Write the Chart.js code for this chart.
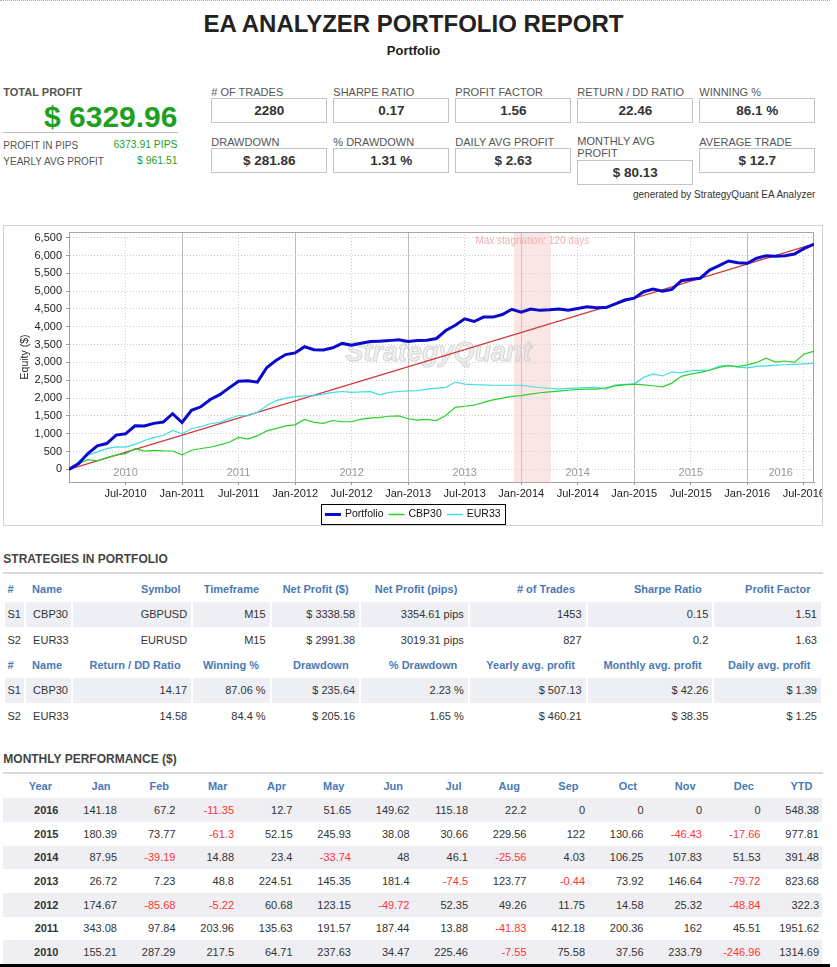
<!DOCTYPE html>
<html>
<head>
<meta charset="utf-8">
<title>EA Analyzer Portfolio Report</title>
<script src="https://cdn.jsdelivr.net/npm/chart.js@4.4.0/dist/chart.umd.min.js"></script>
<style>
body{margin:0;background:#fff;font-family:Arial,"Liberation Sans",sans-serif;color:#333;width:837px;height:967px;position:relative;overflow:hidden}
.a{position:absolute;white-space:nowrap}
.topline{position:absolute;left:0;top:0;width:830px;border-top:1px dotted #aaa}
.title{left:0;width:827px;text-align:center;font-weight:bold;color:#222}
.lbl{font-size:11px;line-height:11px;color:#555}
.box{position:absolute;width:116px;height:25px;box-sizing:border-box;border:1px solid #c4c4c4;text-align:center;font-weight:bold;font-size:13.5px;line-height:23px;color:#333}
.green{color:#1f9f1f}
.sect{font-size:12px;line-height:12px;font-weight:bold;color:#444}
.rule{position:absolute;left:3px;width:820px;height:2px;background:#d6dbd6}
#chartBox{position:absolute;left:3px;top:225px;width:818px;height:299px;border:1px solid #d6ced6}
#chartBox canvas{display:block}
table{position:absolute;table-layout:fixed;font-size:11px;color:#333}
td{padding:0;white-space:nowrap;overflow:hidden}
#strat{left:3px;top:576.4px;width:820px;border-collapse:separate;border-spacing:2.5px 0}
#strat tr{height:25.33px}
#strat td{text-align:right;padding-right:4px}
#strat td.c0{text-align:left;padding-left:2.5px;padding-right:0}
#strat td.c1{text-align:left;padding-left:7px;padding-right:0}
#strat tr.h td{font-weight:bold;color:#4a79b5;padding-right:10.5px}
#strat tr.h td.c0,#strat tr.h td.c1{padding-right:0}
#strat tr.h td.c1{padding-left:6px}
#strat tr.s td{background:#eeeff4}
#month{left:3px;top:774.4px;width:819px;border-collapse:collapse}
#month tr{height:23.65px}
#month tr.h{height:24px}
#month td{text-align:right;padding-right:3px}
#month tr.h td{font-weight:bold;color:#4a79b5;padding-right:9.5px}
#month tr.s td{background:#efeff3}
#month td.yr{font-weight:bold}
.neg{color:#ff3333}
.bottombar{position:absolute;left:0;top:964px;width:830px;height:3px;background:#000}
</style>
</head>
<body>
<div class="topline"></div>
<div class="a title" style="top:12px;font-size:24px;line-height:24px">EA ANALYZER PORTFOLIO REPORT</div>
<div class="a title" style="top:44.3px;font-size:13px;line-height:13px">Portfolio</div>

<div class="a lbl" style="left:3.3px;top:87.4px;font-weight:bold">TOTAL PROFIT</div>
<div class="a green" style="left:0;width:177.5px;text-align:right;top:102.3px;font-size:30px;line-height:30px;font-weight:bold">$ 6329.96</div>
<div class="a" style="left:3px;top:132px;width:175px;height:1px;background:#bbb"></div>
<div class="a" style="left:3.3px;top:140.5px;font-size:10px;line-height:10px;color:#555">PROFIT IN PIPS</div>
<div class="a green" style="left:0;width:177.5px;text-align:right;top:140.2px;font-size:10.4px;line-height:10.4px">6373.91 PIPS</div>
<div class="a" style="left:3.3px;top:156.5px;font-size:10px;line-height:10px;color:#555">YEARLY AVG PROFIT</div>
<div class="a green" style="left:0;width:177.5px;text-align:right;top:156.2px;font-size:10.4px;line-height:10.4px">$ 961.51</div>

<div id="stats"></div>

<div class="a" style="left:0;width:815.3px;text-align:right;top:189.5px;font-size:10px;line-height:10px;color:#333">generated by StrategyQuant EA Analyzer</div>

<div id="chartBox"><canvas id="equityCanvas" width="818" height="299"></canvas></div>

<div class="a sect" style="left:3.3px;top:553.1px">STRATEGIES IN PORTFOLIO</div>
<div class="rule" style="top:571.5px"></div>
<table id="strat">
<colgroup><col style="width:19px"><col style="width:45px"><col style="width:117px"><col style="width:76px"><col style="width:87px"><col style="width:106px"><col style="width:115px"><col style="width:124px"><col style="width:106px"></colgroup>
<tbody></tbody>
</table>

<div class="a sect" style="left:3.3px;top:753.1px">MONTHLY PERFORMANCE ($)</div>
<div class="rule" style="top:771.5px"></div>
<table id="month">
<colgroup><col style="width:58.5px"><col style="width:58.5px"><col style="width:58.5px"><col style="width:58.5px"><col style="width:58.5px"><col style="width:58.5px"><col style="width:58.5px"><col style="width:58.5px"><col style="width:58.5px"><col style="width:58.5px"><col style="width:58.5px"><col style="width:58.5px"><col style="width:58.5px"><col style="width:58.5px"></colgroup>
<tbody></tbody>
</table>
<div class="bottombar"></div>

<script>
// ---- summary boxes ----
const statLabels1 = ["# OF TRADES", "SHARPE RATIO", "PROFIT FACTOR", "RETURN / DD RATIO", "WINNING %"];
const statValues1 = ["2280", "0.17", "1.56", "22.46", "86.1 %"];
const statLabels2 = ["DRAWDOWN", "% DRAWDOWN", "DAILY AVG PROFIT", "MONTHLY AVG<br>PROFIT", "AVERAGE TRADE"];
const statValues2 = ["$ 281.86", "1.31 %", "$ 2.63", "$ 80.13", "$ 12.7"];

// ---- monthly performance (table + portfolio equity) ----
const years = [2016, 2015, 2014, 2013, 2012, 2011, 2010];
const monthNames = ["Jan", "Feb", "Mar", "Apr", "May", "Jun", "Jul", "Aug", "Sep", "Oct", "Nov", "Dec"];
const m2016 = [141.18, 67.2, -11.35, 12.7, 51.65, 149.62, 115.18, 22.2, 0, 0, 0, 0];
const m2015 = [180.39, 73.77, -61.3, 52.15, 245.93, 38.08, 30.66, 229.56, 122, 130.66, -46.43, -17.66];
const m2014 = [87.95, -39.19, 14.88, 23.4, -33.74, 48, 46.1, -25.56, 4.03, 106.25, 107.83, 51.53];
const m2013 = [26.72, 7.23, 48.8, 224.51, 145.35, 181.4, -74.5, 123.77, -0.44, 73.92, 146.64, -79.72];
const m2012 = [174.67, -85.68, -5.22, 60.68, 123.15, -49.72, 52.35, 49.26, 11.75, 14.58, 25.32, -48.84];
const m2011 = [343.08, 97.84, 203.96, 135.63, 191.57, 187.44, 13.88, -41.83, 412.18, 200.36, 162, 45.51];
const m2010 = [155.21, 287.29, 217.5, 64.71, 237.63, 34.47, 225.46, -7.55, 75.58, 37.56, 233.79, -246.96];
const monthly = [m2016, m2015, m2014, m2013, m2012, m2011, m2010];
const ytd = [548.38, 977.81, 391.48, 823.68, 322.3, 1951.62, 1314.69];

// ---- strategies ----
const stratIds = ["S1", "S2"];
const stratNames = ["CBP30", "EUR33"];
const symbols = ["GBPUSD", "EURUSD"];
const timeframes = ["M15", "M15"];
const netProfit = [3338.58, 2991.38];
const netPips = [3354.61, 3019.31];
const numTrades = [1453, 827];
const sharpe = [0.15, 0.2];
const profitFactor = [1.51, 1.63];
const retDD = [14.17, 14.58];
const winPct = [87.06, 84.4];
const drawdown = [235.64, 205.16];
const ddPct = [2.23, 1.65];
const yearlyAvg = [507.13, 460.21];
const monthlyAvg = [42.26, 38.35];
const dailyAvg = [1.39, 1.25];

// ---- equity chart: strategy curves read at month ends (Jan 2010 .. Aug 2016) ----
const cbp30Equity = [0, 150, 270, 240, 330, 400, 440, 580, 510, 535, 520, 515,
  405, 535, 585, 620, 685, 760, 895, 850, 945, 1080, 1150, 1220,
  1250, 1400, 1320, 1290, 1370, 1340, 1335, 1410, 1440, 1460, 1490, 1500,
  1420, 1380, 1400, 1370, 1510, 1740, 1770, 1800, 1880, 1950, 2000, 2050,
  2070, 2110, 2150, 2175, 2195, 2220, 2240, 2250, 2250, 2290, 2340, 2370,
  2390, 2370, 2345, 2315, 2420, 2610, 2670, 2720, 2780, 2860, 2910, 2880,
  2930, 3000, 3120, 3010, 3040, 3000, 3230, 3310, 3338.58];
const eur33Equity = [0, 210, 400, 490, 580, 630, 625, 700, 810, 890, 950, 1090,
  1000, 1140, 1200, 1280, 1320, 1420, 1510, 1500, 1600, 1790, 1930, 2000,
  2040, 2060, 2070, 2110, 2160, 2185, 2160, 2175, 2180, 2090, 2160, 2185,
  2200, 2210, 2250, 2280, 2300, 2450, 2390, 2375, 2370, 2360, 2360, 2360,
  2360, 2325, 2290, 2275, 2250, 2270, 2280, 2295, 2300, 2250, 2370, 2385,
  2400, 2580, 2680, 2620, 2730, 2710, 2770, 2775, 2780, 2900, 2915, 2870,
  2850, 2890, 2905, 2925, 2935, 2945, 2960, 2975, 2991.38];
const totalProfit = 6329.96;
const firstDate = 2010;
const lastTradeDate = 2016.59;
const monthsTraded = 80;
const stagnationStart = 2013.935;
const stagnationEnd = 2014.263;
const yMin = -355, yMax = 6660;
const yTicks = [0, 500, 1000, 1500, 2000, 2500, 3000, 3500, 4000, 4500, 5000, 5500, 6000, 6500];
const xTickValues = [2010.5, 2011, 2011.5, 2012, 2012.5, 2013, 2013.5, 2014, 2014.5, 2015, 2015.5, 2016, 2016.5];
const xTickLabels = ["Jul-2010", "Jan-2011", "Jul-2011", "Jan-2012", "Jul-2012", "Jan-2013", "Jul-2013",
  "Jan-2014", "Jul-2014", "Jan-2015", "Jul-2015", "Jan-2016", "Jul-2016"];
const yearLabels = ["2010", "2011", "2012", "2013", "2014", "2015", "2016"];

// boxes
const boxLeft = [211.3, 333.3, 455.3, 577.3, 699.3];
let html = "";
boxLeft.forEach((l, i) => {
  html += `<div class="a lbl" style="left:${l}px;top:87.4px">${statLabels1[i]}</div>`;
  html += `<div class="box" style="left:${l}px;top:98px">${statValues1[i]}</div>`;
  const two = statLabels2[i].includes("<br>");
  html += `<div class="a lbl" style="left:${l}px;top:${two ? 135 : 135.7}px;line-height:12.3px">${statLabels2[i]}</div>`;
  html += `<div class="box" style="left:${l}px;top:${two ? 160.3 : 147.5}px">${statValues2[i]}</div>`;
});
document.getElementById("stats").innerHTML = html;

// strategies table
function row(cells, cls) {
  return `<tr class="${cls}">` + cells.map((c, i) => `<td class="c${i}">${c}</td>`).join("") + "</tr>";
}
let sh = row(["#", "Name", "Symbol", "Timeframe", "Net Profit ($)", "Net Profit (pips)", "# of Trades", "Sharpe Ratio", "Profit Factor"], "h");
stratIds.forEach((id, i) => {
  sh += row([id, stratNames[i], symbols[i], timeframes[i], "$ " + netProfit[i], netPips[i] + " pips",
    numTrades[i], sharpe[i], profitFactor[i]], i === 0 ? "s" : "");
});
sh += row(["#", "Name", "Return / DD Ratio", "Winning %", "Drawdown", "% Drawdown", "Yearly avg. profit", "Monthly avg. profit", "Daily avg. profit"], "h");
stratIds.forEach((id, i) => {
  sh += row([id, stratNames[i], retDD[i], winPct[i] + " %", "$ " + drawdown[i], ddPct[i] + " %",
    "$ " + yearlyAvg[i], "$ " + monthlyAvg[i], "$ " + dailyAvg[i]], i === 0 ? "s" : "");
});
document.querySelector("#strat tbody").innerHTML = sh;

// monthly table
let mh = '<tr class="h"><td>Year</td>' + monthNames.map(m => `<td>${m}</td>`).join("") + "<td>YTD</td></tr>";
years.forEach((y, r) => {
  const cells = monthly[r].concat([ytd[r]]).map(v => `<td${v < 0 ? ' class="neg"' : ""}>${v}</td>`).join("");
  mh += `<tr class="${r % 2 === 0 ? "s" : ""}"><td class="yr">${y}</td>${cells}</tr>`;
});
document.querySelector("#month tbody").innerHTML = mh;

// portfolio equity = running sum of the monthly table, oldest first
const chrono = monthly.slice().reverse().flat().slice(0, monthsTraded);
const equityDates = [firstDate];
const portfolioEquity = [0];
let run = 0;
chrono.forEach((v, k) => {
  run += v;
  portfolioEquity.push(+run.toFixed(2));
  equityDates.push(k === monthsTraded - 1 ? lastTradeDate : firstDate + (k + 1) / 12);
});
const pts = arr => arr.map((v, i) => ({x: equityDates[i], y: v}));

const reportDecor = {
  id: "reportDecor",
  beforeDatasetsDraw(chart) {
    const {ctx, chartArea: a, scales: {x}} = chart;
    ctx.save();
    const x1 = x.getPixelForValue(stagnationStart), x2 = x.getPixelForValue(stagnationEnd);
    ctx.fillStyle = "rgba(246,196,196,0.42)";
    ctx.fillRect(x1, a.top, x2 - x1, a.bottom - a.top);
    ctx.textAlign = "center";
    ctx.textBaseline = "middle";
    ctx.fillStyle = "#efb2b2";
    ctx.font = "10px Arial";
    ctx.fillText("Max stagnation: 120 days", (x1 + x2) / 2, a.top + 9);

    ctx.fillStyle = "#9a9a9a";
    ctx.font = "11px Arial";
    yearLabels.forEach((lab, i) => {
      const s = Math.max(firstDate, +lab), e = Math.min(lastTradeDate, +lab + 1);
      ctx.fillText(lab, x.getPixelForValue((s + e) / 2), a.bottom - 9);
    });

    // watermark
    ctx.font = "italic bold 27px Arial";
    ctx.lineWidth = 1;
    ctx.fillStyle = "rgba(225,225,225,0.55)";
    ctx.strokeStyle = "rgba(200,200,200,0.7)";
    const wx = (a.left + a.right) / 2 - 3, wy = a.top + 122;
    ctx.fillText("StrategyQuant", wx, wy);
    ctx.strokeText("StrategyQuant", wx, wy);

    ctx.strokeStyle = "#a6a6a6";
    ctx.strokeRect(a.left + 0.5, a.top + 0.5, a.right - a.left - 1, a.bottom - a.top);
    ctx.restore();
  },
  afterDraw(chart) {
    const {ctx} = chart;
    const items = chart.data.datasets.slice(0, 3);
    ctx.save();
    ctx.font = "10.5px Arial";
    const widths = items.map(d => 16 + 4 + ctx.measureText(d.label).width);
    const total = widths.reduce((s, w) => s + w, 0) + 5 * (items.length - 1) + 8;
    const left = Math.round(chart.width / 2 - total / 2);
    const top = chart.height - 21, h = 20;
    ctx.fillStyle = "#fff";
    ctx.fillRect(left, top, total, h);
    ctx.strokeStyle = "#000";
    ctx.lineWidth = 1;
    ctx.strokeRect(left + 0.5, top + 0.5, Math.round(total), h);
    let cx = left + 4;
    const cy = top + h / 2 + 0.5;
    items.forEach((d, i) => {
      ctx.strokeStyle = d.borderColor;
      ctx.lineWidth = i === 0 ? 3 : 1.5;
      ctx.beginPath();
      ctx.moveTo(cx, cy);
      ctx.lineTo(cx + 16, cy);
      ctx.stroke();
      ctx.fillStyle = "#111";
      ctx.textBaseline = "middle";
      ctx.textAlign = "left";
      ctx.fillText(d.label, cx + 20, cy);
      cx += widths[i] + 5;
    });
    ctx.restore();
  }
};

const isYearTick = c => c.tick && Math.abs(c.tick.value - Math.round(c.tick.value)) < 1e-6;

new Chart(document.getElementById("equityCanvas"), {
  type: "line",
  data: {
    datasets: [
      {label: "Portfolio", data: pts(portfolioEquity), borderColor: "#0a0acd", borderWidth: 3, pointRadius: 0, tension: 0},
      {label: "CBP30", data: pts(cbp30Equity), borderColor: "#2bd12b", borderWidth: 1.2, pointRadius: 0, tension: 0},
      {label: "EUR33", data: pts(eur33Equity), borderColor: "#40dde6", borderWidth: 1.2, pointRadius: 0, tension: 0},
      {label: "Trend", data: [{x: firstDate, y: 0}, {x: lastTradeDate, y: totalProfit}], borderColor: "#d03434", borderWidth: 1.2, pointRadius: 0}
    ]
  },
  options: {
    responsive: false,
    animation: false,
    devicePixelRatio: 1,
    layout: {padding: {top: 6, right: 8, bottom: 0, left: 0}},
    plugins: {legend: {display: false}, tooltip: {enabled: false}},
    scales: {
      x: {
        type: "linear",
        min: firstDate,
        max: lastTradeDate,
        afterBuildTicks: s => { s.ticks = xTickValues.map(v => ({value: v})); },
        afterFit: s => { s.height = 43; s.paddingLeft = 0; s.paddingRight = 0; },
        ticks: {
          autoSkip: false, maxRotation: 0, padding: 2, color: "#222",
          font: {family: "Arial", size: 11},
          callback: (v, i) => xTickLabels[i]
        },
        grid: {
          color: c => isYearTick(c) ? "#bdbdbd" : "#cfcfcf",
          lineWidth: 1, tickLength: 3, tickColor: "#999"
        },
        border: {display: true, color: "#8c8c8c", dash: c => isYearTick(c) ? [] : [1, 2]}
      },
      y: {
        min: yMin,
        max: yMax,
        afterBuildTicks: s => { s.ticks = yTicks.map(v => ({value: v})); },
        afterFit: s => { s.width = 65; s.paddingTop = 0; s.paddingBottom = 0; },
        ticks: {
          padding: 4, color: "#222",
          font: {family: "Arial", size: 11},
          callback: v => v.toLocaleString("en-US")
        },
        title: {display: true, text: "Equity ($)", color: "#222", font: {family: "Arial", size: 10.5}, padding: {top: 15, bottom: 0}},
        grid: {color: "#cfcfcf", lineWidth: 1, tickLength: 3, tickColor: "#999"},
        border: {display: true, color: "#a6a6a6", dash: c => c.tick ? [1, 2] : []}
      }
    }
  },
  plugins: [reportDecor]
});
</script>
</body>
</html>
